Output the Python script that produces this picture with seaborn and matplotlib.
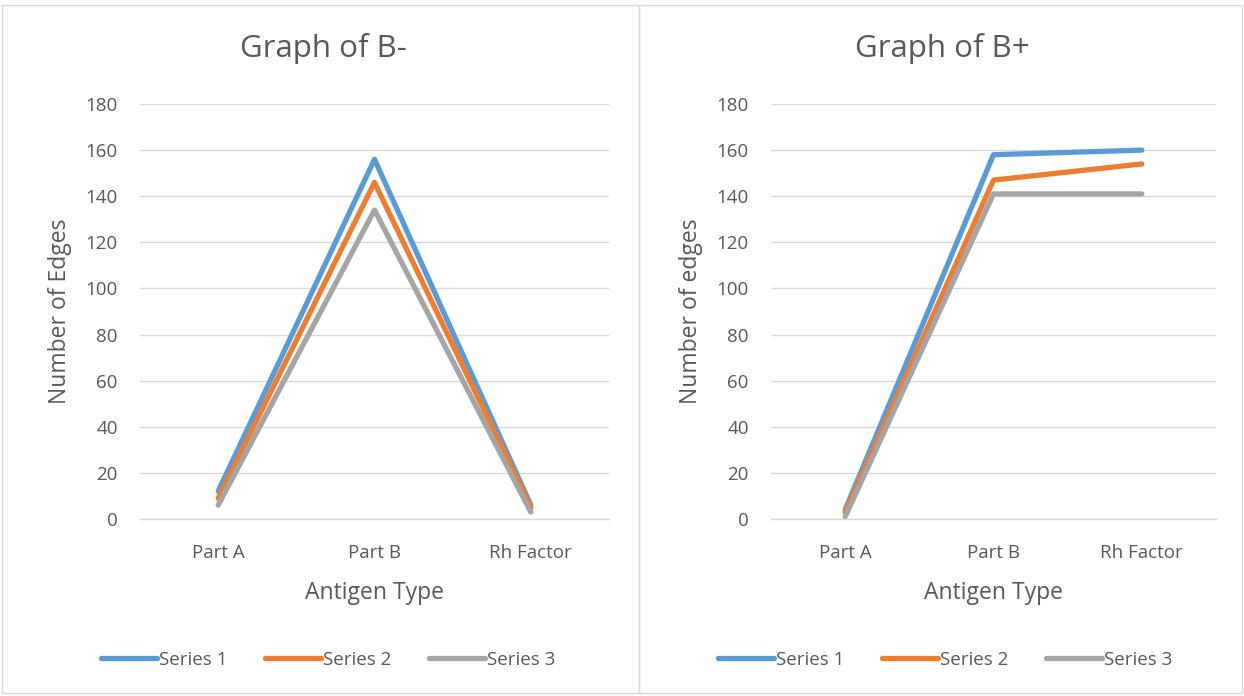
import matplotlib
matplotlib.use("Agg")
import matplotlib.pyplot as plt
import seaborn as sns
import pandas as pd
from matplotlib.patches import Rectangle
from matplotlib.lines import Line2D

categories = ["Part A", "Part B", "Rh Factor"]
series_names = ["Series 1", "Series 2", "Series 3"]

bneg_s1 = [12, 156, 6]
bneg_s2 = [9, 146, 5]
bneg_s3 = [6, 134, 3]

bpos_s1 = [4, 158, 160]
bpos_s2 = [3, 147, 154]
bpos_s3 = [1, 141, 141]

yticks = [0, 20, 40, 60, 80, 100, 120, 140, 160, 180]
colors = ["#5B9BD5", "#ED7D31", "#A5A5A5"]
txt = "#595959"

sns.set_theme(style="white")
plt.rcParams["font.family"] = ["Open Sans", "DejaVu Sans"]

W, H = 1244, 696
fig = plt.figure(figsize=(W / 100, H / 100), dpi=100)


def make_df(s1, s2, s3):
    rows = []
    for name, vals in zip(series_names, [s1, s2, s3]):
        for c, v in zip(categories, vals):
            rows.append({"cat": c, "val": v, "series": name})
    return pd.DataFrame(rows)


def px_axes(x0, x1, ytop, ybot):
    return fig.add_axes([x0 / W, 1 - ybot / H, (x1 - x0) / W, (ybot - ytop) / H])


panels = [
    dict(title="Graph of B-", ylabel="Number of Edges", data=(bneg_s1, bneg_s2, bneg_s3),
         ax=(140, 609), px=(2, 639), tx=323, lx=328),
    dict(title="Graph of B+", ylabel="Number of edges", data=(bpos_s1, bpos_s2, bpos_s3),
         ax=(771, 1216), px=(639, 1242), tx=942, lx=945),
]

for p in panels:
    x0, x1 = p["px"]
    fig.patches.append(Rectangle((x0 / W, 3 / H), (x1 - x0) / W, (H - 8) / H,
                                 transform=fig.transFigure, fill=False,
                                 edgecolor="#D9D9D9", linewidth=1.0))
    ax = px_axes(p["ax"][0], p["ax"][1], 104, 519)
    df = make_df(*p["data"])
    sns.lineplot(data=df, x="cat", y="val", hue="series", palette=colors,
                 linewidth=3.8, ax=ax, legend=False, sort=False)
    for ln in ax.lines:
        ln.set_solid_capstyle("round")
        ln.set_solid_joinstyle("round")
    ax.set_xlim(-0.5, 2.5)
    ax.set_ylim(0, 180)
    ax.set_yticks(yticks)
    ax.grid(axis="y", color="#D9D9D9", linewidth=1.0)
    ax.set_axisbelow(True)
    for s in ["top", "right", "left"]:
        ax.spines[s].set_visible(False)
    ax.spines["bottom"].set_color("#D9D9D9")
    ax.spines["bottom"].set_linewidth(1.0)
    ax.tick_params(axis="both", length=0, labelsize=13.5, colors=txt)
    ax.tick_params(axis="x", pad=18)
    ax.tick_params(axis="y", pad=16)
    ax.set_xlabel("Antigen Type", fontsize=16.5, color=txt, labelpad=14)
    ax.set_ylabel(p["ylabel"], fontsize=16.5, color=txt, labelpad=10)
    fig.text(p["tx"] / W, 1 - 48 / H, p["title"], ha="center", va="center",
             fontsize=22.5, color=txt)
    handles = [Line2D([0], [0], color=c, linewidth=3.8) for c in colors]
    fig.legend(handles, series_names, loc="center", bbox_to_anchor=(p["lx"] / W, 1 - 660 / H),
               ncol=3, frameon=False, fontsize=13.5, handlelength=3.0, columnspacing=2.0,
               handletextpad=0.1, labelcolor=txt)

fig.savefig("out.png", dpi=100)
